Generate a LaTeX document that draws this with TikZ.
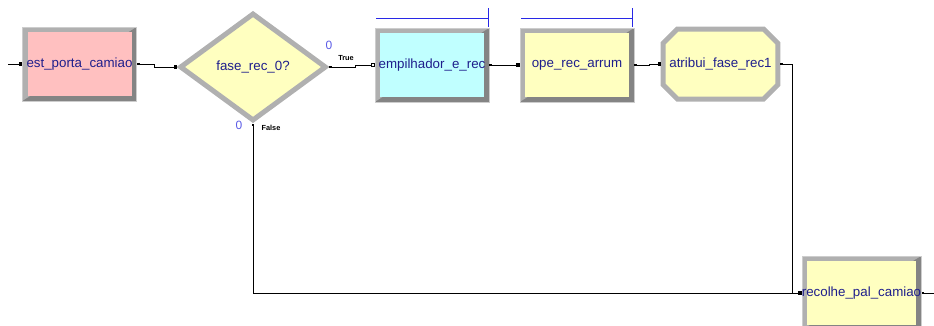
\documentclass[tikz,border=0pt]{standalone}
\usepackage{fontspec}
\setmainfont{Liberation Sans}
\usetikzlibrary{positioning, arrows.meta, shapes.geometric, shapes.misc}
\definecolor{modpink}{RGB}{255,192,192}
\definecolor{modcyan}{RGB}{192,255,255}
\definecolor{modyellow}{RGB}{255,255,192}
\definecolor{bevellight}{RGB}{205,205,205}
\definecolor{bevelmid}{RGB}{176,176,176}
\definecolor{beveldark}{RGB}{132,132,132}
\definecolor{modtext}{RGB}{30,30,140}
\definecolor{qblue}{RGB}{40,40,230}
\definecolor{countblue}{RGB}{90,90,230}

\newcommand{\modfont}{\fontsize{10}{12}\selectfont}
\newcommand{\tagfont}{\fontsize{5.5}{6.5}\selectfont\bfseries}

\tikzset{
    module/.style={rectangle, draw=bevellight, line width=0.5pt, fill=bevelmid,
        minimum width=85.5pt, minimum height=55.5pt, inner sep=0pt,
        text=modtext, font=\modfont,
        path picture={
            \fill[beveldark] (path picture bounding box.south west) -- (path picture bounding box.south east) -- (path picture bounding box.north east) -- cycle;
            \fill[#1] ([xshift=3.75pt,yshift=-3.75pt]path picture bounding box.north west) rectangle ([xshift=-3.75pt,yshift=3.75pt]path picture bounding box.south east);
        }},
    decision/.style={diamond, draw=bevelmid, line width=3.75pt, fill=modyellow,
        minimum width=110pt, minimum height=81pt, inner sep=0pt,
        text=modtext, font=\modfont},
    assign/.style={chamfered rectangle, chamfered rectangle xsep=6pt, chamfered rectangle ysep=6pt,
        draw=bevelmid, line width=3.75pt, fill=modyellow,
        minimum width=84pt, minimum height=52.5pt, inner sep=0pt,
        text=modtext, font=\modfont},
    link/.style={draw, line width=0.75pt},
    dots/.style={{Square[length=2pt,width=2pt]}-{Square[length=2.4pt,width=2.4pt]}},
    count/.style={text=countblue, font=\fontsize{9}{10}\selectfont, inner sep=0pt},
    tag/.style={font=\tagfont, inner sep=0pt},
    qbar/.style={draw=qblue, line width=0.75pt}
}

\begin{document}
\begin{tikzpicture}[x=0.75pt, y=-0.75pt]
        \useasboundingbox (0,0) rectangle (934,325);
        \clip (0,0) rectangle (934,325);

        % modules
        \node[module=modpink] (estPorta) at (79.5,64) {est\_porta\_camiao};
        \node[decision] (faseRec) at (253,67) {fase\_rec\_0?};
        \node[module=modcyan] (empilhador) at (432,65) {empilhador\_e\_rec};
        \node[module=modyellow] (opeRec) at (577,65) {ope\_rec\_arrum};
        \node[assign] (atribui) at (720.5,64) {atribui\_fase\_rec1};
        \node[module=modyellow] (recolhe) at (861.5,293) {recolhe\_pal\_camiao};

        % loose ends
        \coordinate (inPt) at (8,64);
        \coordinate (outPt) at (934,293);

        % branch labels
        \node[count] (trueCount) at (329,45) {0};
        \node[tag] (trueTag) at (346,58) {True};
        \node[count] (falseCount) at (239,125) {0};
        \node[tag] (falseTag) at (271,128) {False};

        % queues
        \draw[qbar] (376,18) -- (488,18) (488,8) -- (488,27);
        \draw[qbar] (521,18) -- (632,18) (632,8) -- (632,27);

        % connectors
        \draw[link, -{Square[length=2.4pt,width=2.4pt]}] (inPt) -- (estPorta.west);
        \draw[link, dots] (estPorta.east) -- ++(18,0) |- (faseRec.west);
        \draw[link, {Square[length=2pt,width=2pt]}-{Square[open,length=3pt,width=3pt]}] (faseRec.east) -- ++(27,0) |- (empilhador.west);
        \draw[link, dots] (faseRec.south) |- (recolhe.west);
        \draw[link, dots] (empilhador.east) -- (opeRec.west);
        \draw[link, dots] (opeRec.east) -- ++(15,0) |- (atribui.west);
        \draw[link, dots] (atribui.east) -- ++(12,0) |- (recolhe.west);
        \draw[link, {Square[length=2pt,width=2pt]}-] (recolhe.east) -- (outPt);
    \end{tikzpicture}
\end{document}
